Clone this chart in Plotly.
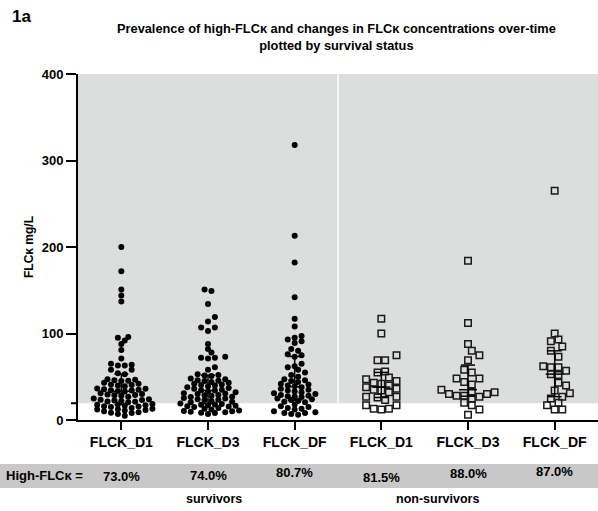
import numpy as np
import plotly.graph_objects as go

# ---------------- data ----------------
categories = ["FLCK_D1", "FLCK_D3", "FLCK_DF", "FLCK_D1", "FLCK_D3", "FLCK_DF"]
high_flc_pct = ["73.0%", "74.0%", "80.7%", "81.5%", "88.0%", "87.0%"]
group_labels = ["survivors", "non-survivors"]
threshold = 19.4

surv_d1 = [5, 7, 8, 8.5, 9, 10, 11, 11.5, 12, 12.5, 13, 14, 15, 15.5, 16, 16.5, 17, 17.5, 18, 18.5,
           20.5, 21, 21.5, 22, 22.5, 23, 23.5, 24, 25, 27, 28, 28.5, 29, 29.5, 30, 31,
           33, 33.5, 34, 34.5, 35, 35.5, 36, 36.5, 39, 40, 40.5, 41, 42, 43,
           45, 45.5, 46, 46.5, 47, 53, 54, 58, 58, 63, 63, 64, 65,
           71, 81, 88, 92, 95, 96, 137, 144, 151, 172, 200]
surv_d3 = [7, 8, 8.5, 9, 9.5, 10, 10.5, 11, 12, 13, 14, 15, 15.5, 16, 16.5, 17, 17.5, 18, 18.5, 19,
           20.5, 21, 22, 23, 23.5, 24, 25, 25.5, 26.5, 27, 28, 28.5, 29, 30, 30.5, 31,
           32, 33, 34, 34.5, 35, 36, 37, 38, 39, 40, 40.5, 41, 42, 43,
           44, 45, 45.5, 46, 47, 48, 51, 51.5, 52, 53,
           58, 61, 71, 72, 72, 73, 78, 82, 88, 103, 107, 107, 114, 119, 134, 149, 151]
surv_df = [6, 7, 8, 8, 9, 10, 12, 13, 14, 15, 16, 18,
           20.5, 21, 22, 23, 24, 25, 26.5, 27, 27.5, 28, 29, 30, 31, 32, 33, 34, 35, 36,
           38, 39, 40, 41, 42, 44, 45, 46, 47, 50, 52, 55, 58, 61, 62,
           65, 73, 75, 76, 80, 82, 89, 91, 93, 95, 97, 108, 117, 142, 182, 213, 318]
nonsurv_d1 = [117, 100, 75, 69, 69, 56, 55, 49, 47, 45, 43, 42, 40, 38, 36, 35, 34, 32,
              27, 27, 26, 23, 17, 17, 13, 13, 12]
nonsurv_d3 = [184, 112, 88, 80, 75, 69, 58, 55, 48, 48, 44, 41, 35, 33, 32, 30, 30, 28, 28,
              27, 25, 20, 17, 12, 6]
nonsurv_df = [265, 100, 93, 91, 85, 80, 73, 62, 61, 61, 57, 53, 52, 43, 40, 34, 31, 27, 25,
              20, 17, 12, 12]

series = [surv_d1, surv_d3, surv_df, nonsurv_d1, nonsurv_d3, nonsurv_df]

# ---------------- geometry / styling ----------------
W, H = 598, 511
ML, MR, MT, MB = 78, 0, 74, 91
PW, PH = W - ML - MR, H - MT - MB
XMIN, XMAX = -0.5, 5.5
YMAX = 400
xpx_per_unit = PW / (XMAX - XMIN)
ypx_per_unit = PH / YMAX
FONT = "Liberation Sans, Arial, sans-serif"
pct_row_px = [476, 475.5, 472.5, 477, 473, 471.5]   # slight baseline jitter as in the original


def px_x(px):
    return (px - ML) / PW


def px_y(py):
    return (H - MB - py) / PH


def row_scatter(vals, bin_h, bin_c, d, min_dist):
    """GraphPad-like scatter: values binned in rows, lowest value at the centre,
    alternating outward; slot shifted if it would collide with an earlier mark."""
    vals = np.asarray(vals, float)
    bins = np.round((vals - bin_c) / bin_h).astype(int)
    offs = np.zeros(len(vals))
    placed = []
    for b in sorted(set(bins)):
        idx = [i for i in np.argsort(vals, kind="stable") if bins[i] == b]
        n = len(idx)
        odd = [0.0] + [s * k * d for k in range(1, 12) for s in (1, -1)]
        even = [s * (k - 0.5) * d for k in range(1, 12) for s in (1, -1)]
        base, extra = (odd, even) if n % 2 == 1 else (even, odd)
        slots = base + sorted(extra, key=abs)
        used = set()
        for i in idx:
            y = vals[i] * ypx_per_unit
            for j, s in enumerate(slots):
                if j in used:
                    continue
                if all((s - px) ** 2 + (y - py) ** 2 >= min_dist ** 2 for px, py in placed):
                    used.add(j)
                    offs[i] = s
                    placed.append((s, y))
                    break
    return offs / xpx_per_unit


fig = go.Figure()
shapes = []

shapes.append(dict(type="rect", xref="x", yref="y", x0=XMIN, x1=XMAX, y0=threshold, y1=YMAX,
                   fillcolor="#dcdddd", line=dict(width=0), layer="below"))
shapes.append(dict(type="line", xref="x", yref="y", x0=2.5, x1=2.5, y0=threshold, y1=YMAX,
                   line=dict(color="white", width=1.5), layer="below"))

for gi, vals in enumerate(series):
    surv = gi < 3
    if surv:
        offs = row_scatter(vals, 5.8, 11.5, 6.9, 4.6)
        marker = dict(symbol="circle", size=6, color="black", line=dict(width=0))
    else:
        offs = row_scatter(vals, 9.0, 31.0, 7.6, 6.8)
        marker = dict(symbol="square-open", size=6.5, color="#1a1a1a",
                      line=dict(width=1.5, color="#1a1a1a"))
    xs = gi + offs
    fig.add_trace(go.Scatter(x=xs, y=vals, mode="markers", marker=marker,
                             showlegend=False, hoverinfo="y", cliponaxis=False))
    q1, med, q3 = np.percentile(np.asarray(vals, float), [25, 50, 75], method="weibull")
    cap = 7 / xpx_per_unit
    mw = 9 / xpx_per_unit
    lw = 1.5
    for (a, b, y0, y1) in [(gi, gi, q1, q3), (gi - cap, gi + cap, q1, q1),
                           (gi - cap, gi + cap, q3, q3), (gi - mw, gi + mw, med, med)]:
        shapes.append(dict(type="line", xref="x", yref="y", x0=a, x1=b, y0=y0, y1=y1,
                           line=dict(color="black", width=lw)))

# threshold tick on y axis
shapes.append(dict(type="line", xref="paper", yref="y", x0=px_x(ML - 7), x1=0, y0=threshold, y1=threshold,
                   line=dict(color="black", width=2)))

# bottom band
shapes.append(dict(type="rect", xref="paper", yref="paper", x0=px_x(0), x1=px_x(W), y0=px_y(488), y1=px_y(464),
                   fillcolor="#c8c8c8", line=dict(width=0), layer="below"))

annotations = []
annotations.append(dict(text="<b>1a</b>", xref="paper", yref="paper", x=px_x(10), y=px_y(16),
                        xanchor="left", yanchor="middle", showarrow=False,
                        font=dict(family=FONT, size=17, color="black")))
annotations.append(dict(text="<b>Prevalence of high-FLCκ and changes in FLCκ concentrations over-time<br>plotted by survival status</b>",
                        xref="paper", yref="paper", x=px_x(336), y=px_y(37),
                        xanchor="center", yanchor="middle", showarrow=False, align="center",
                        font=dict(family=FONT, size=12.8, color="black")))
annotations.append(dict(text="<b>High-FLCκ =</b>", xref="paper", yref="paper", x=px_x(4), y=px_y(475),
                        xanchor="left", yanchor="middle", showarrow=False,
                        font=dict(family=FONT, size=13, color="black")))
for i, t in enumerate(high_flc_pct):
    annotations.append(dict(text="<b>" + t + "</b>", xref="x", yref="paper", x=i, y=px_y(pct_row_px[i]),
                            xanchor="center", yanchor="middle", showarrow=False,
                            font=dict(family=FONT, size=13, color="black")))
annotations.append(dict(text="<b>" + group_labels[0] + "</b>", xref="x", yref="paper", x=1.07, y=px_y(499),
                        xanchor="center", yanchor="middle", showarrow=False,
                        font=dict(family=FONT, size=12.5, color="black")))
annotations.append(dict(text="<b>" + group_labels[1] + "</b>", xref="x", yref="paper", x=3.65, y=px_y(499),
                        xanchor="center", yanchor="middle", showarrow=False,
                        font=dict(family=FONT, size=12.5, color="black")))

fig.update_layout(
    width=W, height=H,
    margin=dict(l=ML, r=MR, t=MT, b=MB, pad=0),
    paper_bgcolor="white", plot_bgcolor="white",
    shapes=shapes, annotations=annotations,
    font=dict(family=FONT, color="black"),
    xaxis=dict(range=[XMIN, XMAX], tickmode="array", tickvals=list(range(6)),
               ticktext=["<b>" + c + "</b>" for c in categories],
               showgrid=False, zeroline=False, showline=True, linecolor="black", linewidth=2,
               ticks="outside", ticklen=8, tickwidth=2, tickcolor="black",
               tickfont=dict(family=FONT, size=14, color="black")),
    yaxis=dict(range=[0, YMAX], tickmode="array", tickvals=[0, 100, 200, 300, 400],
               ticktext=["<b>%d</b>" % v for v in [0, 100, 200, 300, 400]],
               showgrid=False, zeroline=False, showline=True, linecolor="black", linewidth=2,
               ticks="outside", ticklen=10, tickwidth=2, tickcolor="black",
               tickfont=dict(family=FONT, size=13, color="black"),
               title=dict(text="<b>FLCκ mg/L</b>", font=dict(family=FONT, size=12, color="black"), standoff=5)),
)

fig.write_html("out.html", config={"displayModeBar": False},
               post_script="document.body.style.margin='0px';document.body.style.overflow='hidden';")
